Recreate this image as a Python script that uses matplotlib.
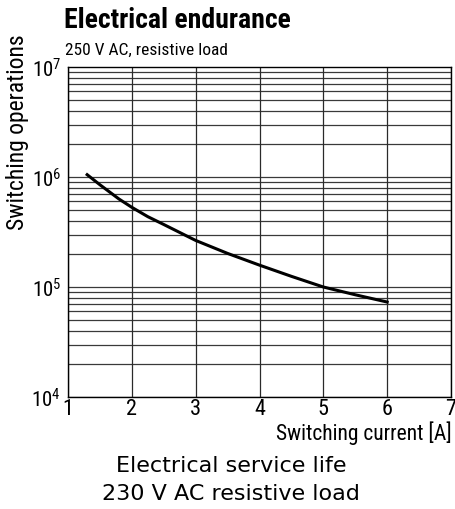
import matplotlib
matplotlib.use("Agg")
import matplotlib.pyplot as plt
import numpy as np

current = [1.3, 1.5, 1.8, 2.0, 2.25, 2.5, 3.0, 3.5, 4.0, 4.5, 5.0, 5.5, 6.0]
operations = [1.05e6, 8.5e5, 6.3e5, 5.3e5, 4.36e5, 3.7e5, 2.65e5, 2.02e5, 1.58e5,
              1.25e5, 1.0e5, 8.5e4, 7.3e4]
x_ticks = [1, 2, 3, 4, 5, 6, 7]
y_decades = [4, 5, 6, 7]

cond = ["Roboto Condensed", "DejaVu Sans"]
plt.rcParams["mathtext.fontset"] = "custom"
plt.rcParams["mathtext.rm"] = "Roboto Condensed"
plt.rcParams["mathtext.it"] = "Roboto Condensed"

fig = plt.figure(figsize=(4.55, 5.1), dpi=100)
ax = fig.add_axes([68/455, 1-398/510, (451-68)/455, (398-68)/510])
ax.set_yscale("log")
ax.set_xlim(1, 7)
ax.set_ylim(1e4, 1e7)

for d in y_decades[:-1]:
    for m in range(1, 10):
        ax.axhline(m * 10**d, color="#3a3a3a", lw=0.9, zorder=1)
for x in x_ticks:
    ax.axvline(x, color="#2a2a2a", lw=0.9, zorder=1)

ax.plot(current, operations, color="black", lw=2.2, zorder=3)

ax.set_xticks(x_ticks)
ax.set_xticklabels([str(v) for v in x_ticks], family=cond, fontsize=16)
ax.set_yticks([10**d for d in y_decades])
ax.set_yticklabels([f"$\\mathrm{{10}}^{{\\mathrm{{{d}}}}}$" for d in y_decades], fontsize=15)
ax.yaxis.set_minor_locator(matplotlib.ticker.NullLocator())
ax.tick_params(axis="x", length=0, pad=1)
ax.tick_params(axis="y", length=0, pad=5)
for s in ax.spines.values():
    s.set_color("black")
    s.set_linewidth(1.0)

fig.text(64/455, 1-21/510, "Electrical endurance", family=cond, fontweight="bold",
         fontsize=20, va="center", ha="left")
fig.text(65/455, 1-50/510, "250 V AC, resistive load", family=cond,
         fontsize=12.5, va="center", ha="left")
fig.text(18/455, 1-132/510, "Switching operations", family=cond, rotation=90,
         fontsize=17, va="center", ha="center")
fig.text(452/455, 1-433/510, "Switching current [A]", family=cond,
         fontsize=15.5, va="center", ha="right")
cap = ["DejaVu Sans"]
fig.text(231/455, 1-466/510, "Electrical service life", family=cap,
         fontsize=16, va="center", ha="center")
fig.text(231/455, 1-494/510, "230 V AC resistive load", family=cap,
         fontsize=16, va="center", ha="center")

fig.savefig("out.png", dpi=100)
